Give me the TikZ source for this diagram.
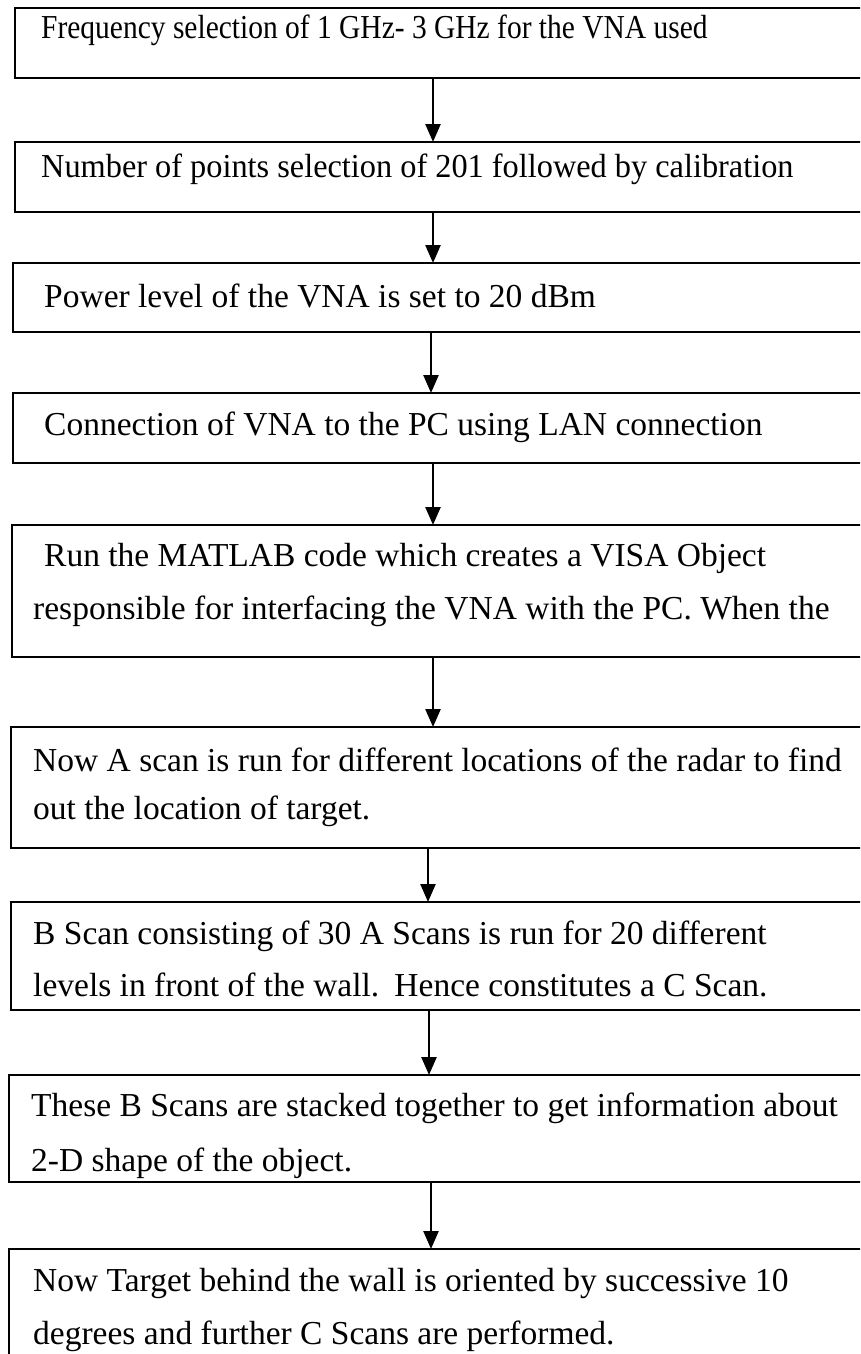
\documentclass[tikz,border=0pt]{standalone}
\usepackage{fontspec}
\setmainfont{Liberation Serif}
\usetikzlibrary{arrows.meta}
\begin{document}
\begin{tikzpicture}[x=1pt,y=-1pt,
  box/.style={draw=black, line width=2.4pt, rectangle, inner sep=0pt, outer sep=0pt,
    anchor=north west, minimum width=#1},
  box/.default=880pt,
  txt/.style={anchor=base west, inner sep=0pt, font=\fontsize{33.5}{40}\selectfont},
  arr/.style={draw=black, line width=2.4pt, -{Triangle[length=18pt,width=15pt]}}]
\useasboundingbox (0,0) rectangle (860,1354);
\fill[white] (0,0) rectangle (860,1354);
\clip (0,0) rectangle (860,1354);
% boxes
\node[box, minimum height=70pt] (b1) at (15,8) {};
\node[box, minimum height=70pt] (b2) at (15,142) {};
\node[box, minimum height=69pt] (b3) at (13,263) {};
\node[box, minimum height=70pt] (b4) at (13,393) {};
\node[box, minimum height=132pt] (b5) at (12,525) {};
\node[box, minimum height=121pt] (b6) at (11,727) {};
\node[box, minimum height=108pt] (b7) at (11,902) {};
\node[box, minimum height=107pt] (b8) at (9,1075) {};
\node[box, minimum height=140pt] (b9) at (9,1249) {};
% texts
\node[txt] (t1) at (41,39) {\scalebox{0.88}[1]{Frequency selection of 1 GHz- 3 GHz for the VNA used}};
\node[txt] (t2) at (41,177) {\scalebox{0.965}[1]{Number of points selection of 201 followed by calibration}};
\node[txt] (t3) at (44,307) {Power level of the VNA is set to 20 dBm};
\node[txt] (t4) at (44,435) {Connection of VNA to the PC using LAN connection};
\node[txt] (t5a) at (44,566) {Run the MATLAB code which creates a VISA Object};
\node[txt] (t5b) at (33,619) {responsible for interfacing the VNA with the PC. When the};
\node[txt] (t6a) at (33,771) {Now A scan is run for different locations of the radar to find};
\node[txt] (t6b) at (33,819) {out the location of target.};
\node[txt] (t7a) at (33,944) {B Scan consisting of 30 A Scans is run for 20 different};
\node[txt] (t7b) at (33,996) {levels in front of the wall.\hspace{4pt} Hence constitutes a C Scan.};
\node[txt] (t8a) at (31,1116) {These B Scans are stacked together to get information about};
\node[txt] (t8b) at (31,1171) {2-D shape of the object.};
\node[txt] (t9a) at (33,1291) {Now Target behind the wall is oriented by successive 10};
\node[txt] (t9b) at (33,1344) {degrees and further C Scans are performed.};
% arrow columns
\coordinate (x1) at (433,0);
\coordinate (x2) at (433,0);
\coordinate (x3) at (431,0);
\coordinate (x4) at (433,0);
\coordinate (x5) at (433,0);
\coordinate (x6) at (428,0);
\coordinate (x7) at (429,0);
\coordinate (x8) at (431,0);
\draw[arr] (b1.south -| x1) -- (b2.north -| x1);
\draw[arr] (b2.south -| x2) -- (b3.north -| x2);
\draw[arr] (b3.south -| x3) -- (b4.north -| x3);
\draw[arr] (b4.south -| x4) -- (b5.north -| x4);
\draw[arr] (b5.south -| x5) -- (b6.north -| x5);
\draw[arr] (b6.south -| x6) -- (b7.north -| x6);
\draw[arr] (b7.south -| x7) -- (b8.north -| x7);
\draw[arr] (b8.south -| x8) -- (b9.north -| x8);
\end{tikzpicture}
\end{document}
